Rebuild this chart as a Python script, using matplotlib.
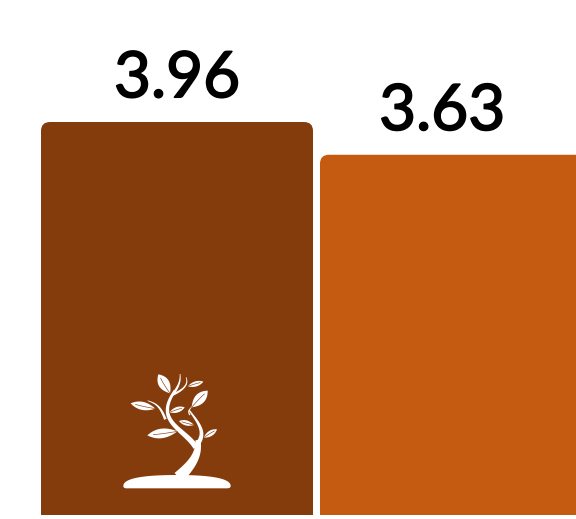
import numpy as np
import matplotlib
matplotlib.use('Agg')
import matplotlib.pyplot as plt
import matplotlib.patheffects as pe
from matplotlib.path import Path
from matplotlib.patches import PathPatch, Polygon
from matplotlib.transforms import Affine2D

values = [3.96, 3.63]
labels = ['3.96', '3.63']
colors = ['#843C0C', '#C55A11']
positions = [0, 1]
label_pos = [0.0, 0.95]

W, H = 576, 519
PX_PER_UNIT = 99.24
STEP = 279.0
BASE_PX = 515


def rounded_top(x, width, h, rx, ry):
    l, r = x - width/2, x + width/2
    verts = [(l, 0), (l, h-ry), (l, h), (l+rx, h), (r-rx, h), (r, h), (r, h-ry), (r, 0), (l, 0)]
    codes = [Path.MOVETO, Path.LINETO, Path.CURVE3, Path.CURVE3, Path.LINETO,
             Path.CURVE3, Path.CURVE3, Path.LINETO, Path.CLOSEPOLY]
    return Path(verts, codes)


def bez(pts, n=60):
    pts = np.array(pts, float)
    out = []
    for t in np.linspace(0, 1, n):
        p = pts.copy()
        while len(p) > 1:
            p = p[:-1]*(1-t) + p[1:]*t
        out.append(p[0])
    return np.array(out)


def branch(ax, tr, pts, w0, w1):
    c = bez(pts)
    d = np.gradient(c, axis=0)
    d = d/np.linalg.norm(d, axis=1, keepdims=True)
    nrm = np.c_[-d[:, 1], d[:, 0]]
    w = np.linspace(w0, w1, len(c))[:, None]/2
    poly = np.r_[c+nrm*w, (c-nrm*w)[::-1]]
    ax.add_patch(Polygon(poly, fc='white', ec='none', transform=tr))


def leaf(ax, tr, tip, base, w, bg):
    tip, base = np.array(tip, float), np.array(base, float)
    v = base-tip
    n = np.array([-v[1], v[0]])/np.linalg.norm(v)
    mid = tip+v*0.45
    a = bez([tip, mid+n*w*1.1, base])
    b = bez([base, mid-n*w*1.1, tip])
    ax.add_patch(Polygon(np.r_[a, b], fc='white', ec='none', transform=tr))
    ax.plot(*bez([tip+v*0.2, mid+n*w*0.08, base]).T, color=bg, lw=0.45, transform=tr)


fig = plt.figure(figsize=(W/100, H/100), dpi=100, facecolor='white')
ax = fig.add_axes([0, (H-BASE_PX)/H, 1, BASE_PX/H])
ax.set_xlim(-177/STEP, (W-177)/STEP)
ax.set_ylim(0, BASE_PX/PX_PER_UNIT)
ax.axis('off')

bar_w = 272/STEP
for x, v, c, lab, lx in zip(positions, values, colors, labels, label_pos):
    ax.add_patch(PathPatch(rounded_top(x, bar_w, v, 9/STEP, 9/PX_PER_UNIT), fc=c, ec='none'))
    ax.text(lx, v+0.25, lab, ha='center', va='baseline', fontsize=46,
            family='Lato', color='black',
            path_effects=[pe.withStroke(linewidth=1.2, foreground='black')])

# tree icon, drawn on a pixel overlay
ov = fig.add_axes([0, 0, 1, 1])
ov.set_xlim(0, W)
ov.set_ylim(H, 0)
ov.axis('off')
ov.patch.set_alpha(0)
tr = Affine2D().scale(1/3).translate(110, 360) + ov.transData
bg = colors[0]

g = np.r_[bez([(40, 378), (40, 345), (200, 345)]), bez([(200, 345), (362, 345), (362, 378)]),
          bez([(362, 378), (362, 385), (350, 385)]), bez([(50, 385), (40, 385), (40, 378)])]
ov.add_patch(Polygon(g, fc='white', ec='none', transform=tr))

branch(ov, tr, [(206, 352), (245, 315), (268, 285), (264, 240)], 36, 15)
branch(ov, tr, [(264, 250), (290, 215), (262, 185), (237, 150)], 14, 4)
branch(ov, tr, [(258, 262), (222, 205), (130, 185), (195, 92)], 17, 8)
branch(ov, tr, [(192, 98), (208, 75), (212, 60), (210, 42)], 8, 2)
branch(ov, tr, [(188, 104), (225, 88), (236, 70), (228, 52)], 7, 2)
branch(ov, tr, [(166, 178), (150, 135), (135, 130), (113, 122)], 8, 2)
branch(ov, tr, [(240, 165), (232, 155), (238, 148), (246, 140)], 4, 2)

leaves = [((145, 43), (180, 100), 30), ((280, 65), (233, 79), 14),
          ((293, 92), (245, 142), 28), ((62, 130), (136, 146), 22),
          ((224, 142), (178, 157), 15), ((207, 183), (252, 195), 14),
          ((112, 226), (202, 214), 26), ((321, 208), (281, 233), 15)]
for tip, base, w in leaves:
    leaf(ov, tr, tip, base, w, bg)

fig.savefig('out.png', dpi=100)
